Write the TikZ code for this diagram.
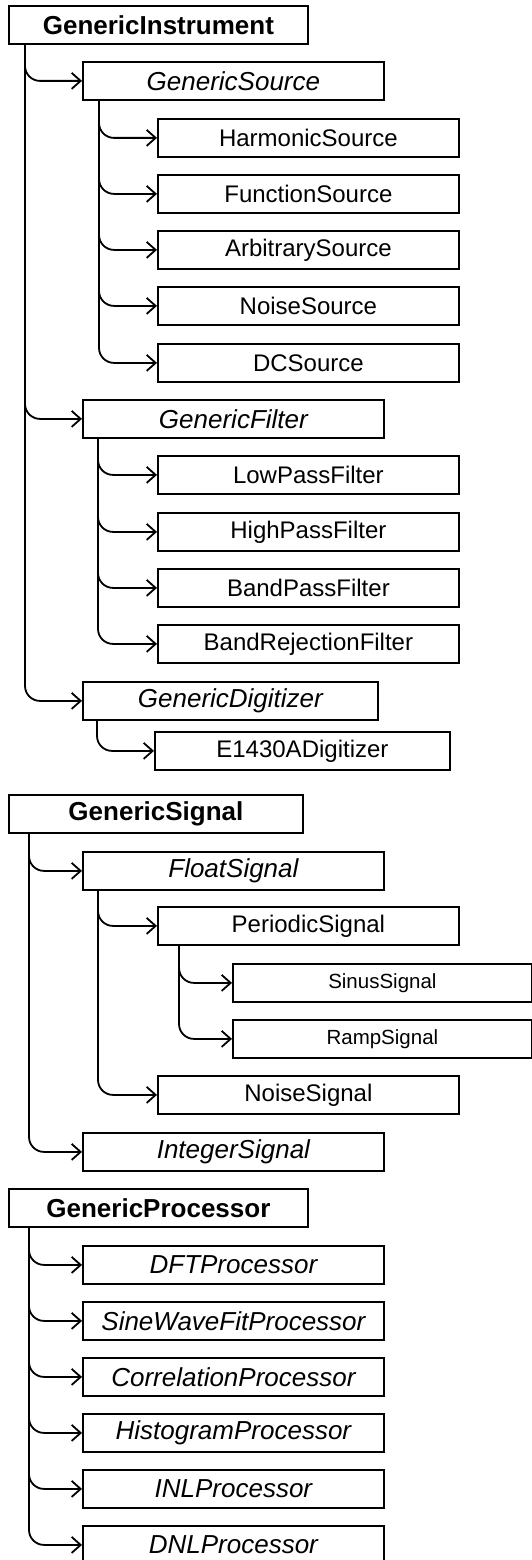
\documentclass[tikz,border=0pt]{standalone}
\usepackage{fontspec}
\setmainfont{Liberation Sans}
\usetikzlibrary{arrows.meta}

\begin{document}
\begin{tikzpicture}[x=1pt,y=-1pt,
  box/.style={draw,line width=1.8pt,anchor=north west,minimum width=301pt,minimum height=38pt,inner sep=0pt,font=\fontsize{24}{28}\selectfont},
  root/.style={box,minimum width=299pt,font=\fontsize{26}{30}\selectfont\bfseries},
  abstract/.style={box,font=\fontsize{26}{30}\selectfont\itshape},
  leaf/.style={box,minimum width=299pt,font=\fontsize{20.5}{24}\selectfont},
  inherit/.style={line width=1.8pt,rounded corners=15pt,-{Straight Barb[length=9pt,width=16pt]}}]
\useasboundingbox (0,0) rectangle (532,1560);

% instruments
\node[root] (instr) at (8,5) {GenericInstrument};
\node[abstract] (src) at (82,61) {GenericSource};
\node[box] (harm) at (157,118) {HarmonicSource};
\node[box] (func) at (157,174) {FunctionSource};
\node[box] (arb) at (157,230) {ArbitrarySource};
\node[box] (noisesrc) at (157,286) {NoiseSource};
\node[box] (dc) at (157,343) {DCSource};
\node[abstract] (filt) at (82,399) {GenericFilter};
\node[box] (lowp) at (157,455) {LowPassFilter};
\node[box] (highp) at (157,512) {HighPassFilter};
\node[box] (bandp) at (157,568) {BandPassFilter};
\node[box] (bandr) at (157,624) {BandRejectionFilter};
\node[abstract,minimum width=295pt] (digi) at (82,681) {GenericDigitizer};
\node[box,minimum width=295pt] (e1430) at (154,731) {E1430ADigitizer};
\foreach \c in {src,filt,digi} \draw[inherit] ([xshift=17pt]instr.south west) |- (\c.west);
\foreach \c in {harm,func,arb,noisesrc,dc} \draw[inherit] ([xshift=17pt]src.south west) |- (\c.west);
\foreach \c in {lowp,highp,bandp,bandr} \draw[inherit] ([xshift=16pt]filt.south west) |- (\c.west);
\draw[inherit] ([xshift=15pt]digi.south west) |- (e1430.west);

% signals
\node[root,minimum width=294pt] (sig) at (8,794) {GenericSignal};
\node[abstract] (flt) at (82,851) {FloatSignal};
\node[box] (peri) at (157,906) {PeriodicSignal};
\node[leaf] (sinus) at (232,963) {SinusSignal};
\node[leaf] (ramp) at (232,1019) {RampSignal};
\node[box] (noisesig) at (157,1075) {NoiseSignal};
\node[abstract] (intg) at (82,1132) {IntegerSignal};
\foreach \c in {flt,intg} \draw[inherit] ([xshift=21pt]sig.south west) |- (\c.west);
\foreach \c in {peri,noisesig} \draw[inherit] ([xshift=16pt]flt.south west) |- (\c.west);
\foreach \c in {sinus,ramp} \draw[inherit] ([xshift=22pt]peri.south west) |- (\c.west);

% processors
\node[root] (proc) at (8,1188) {GenericProcessor};
\node[abstract] (dft) at (82,1245) {DFTProcessor};
\node[abstract] (sine) at (82,1301) {SineWaveFitProcessor};
\node[abstract] (corr) at (82,1357) {CorrelationProcessor};
\node[abstract] (hist) at (82,1413) {HistogramProcessor};
\node[abstract] (inl) at (82,1469) {INLProcessor};
\node[abstract] (dnl) at (82,1525) {DNLProcessor};
\foreach \c in {dft,sine,corr,hist,inl,dnl} \draw[inherit] ([xshift=21pt]proc.south west) |- (\c.west);
\end{tikzpicture}
\end{document}
